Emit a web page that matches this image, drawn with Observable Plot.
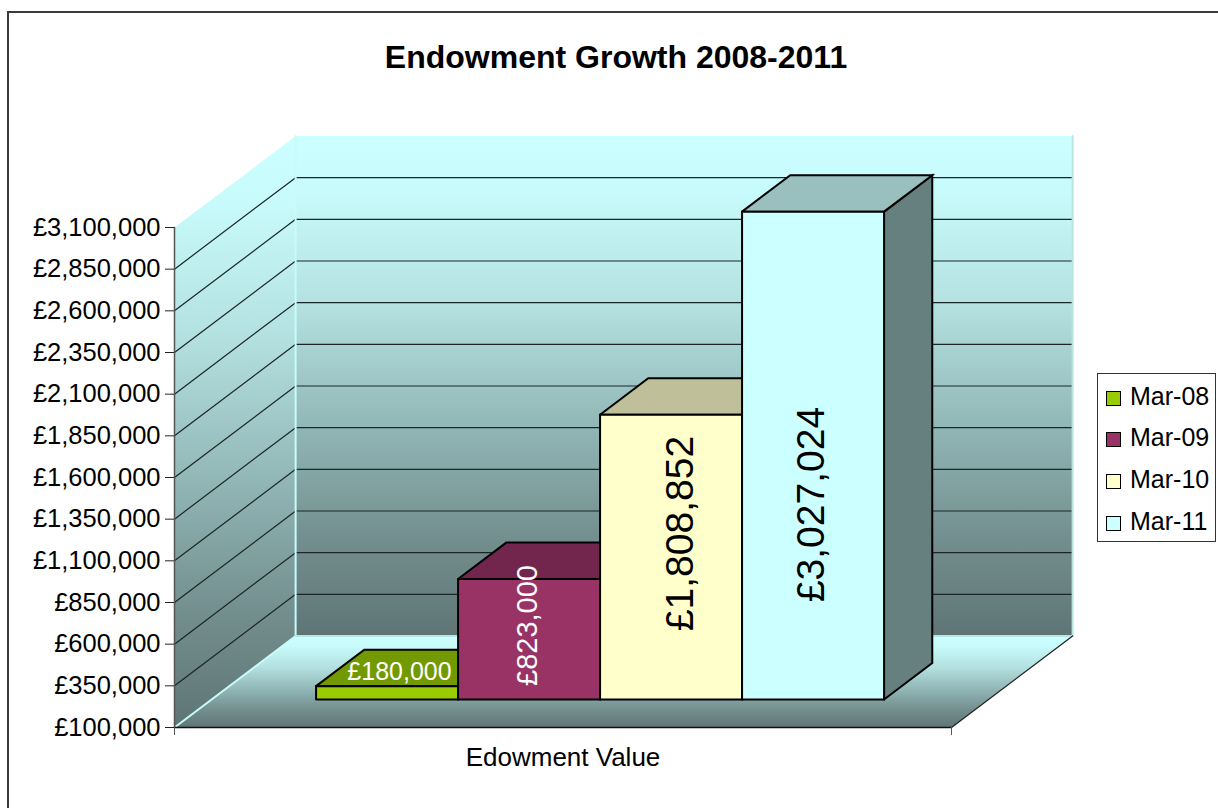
<!DOCTYPE html>
<html>
<head>
<meta charset="utf-8">
<script src="https://cdn.jsdelivr.net/npm/d3@7"></script>
<script src="https://cdn.jsdelivr.net/npm/@observablehq/plot@0.6"></script>
<style>
  html, body { margin: 0; padding: 0; background: #fff; overflow: hidden; width: 1218px; height: 808px; font-family: "Liberation Sans", Arial, sans-serif; }
  #frame { position: absolute; left: 7px; top: 11px; width: 1400px; height: 1000px; border: 2px solid #3a3a3a; }
  #title { position: absolute; left: 0; width: 1232px; top: 38px; text-align: center; font-size: 32px; font-weight: bold; color: #000; line-height: 38px; }
  #chart { position: absolute; left: 0; top: 0; }
  #legend { position: absolute; left: 1097px; top: 373px; width: 117px; height: 167px; border: 1px solid #333; background: #fff; }
  .item { position: absolute; left: 32px; font-size: 25px; line-height: 28px; white-space: nowrap; color: #000; }
  .swatch { position: absolute; left: -24px; top: 9px; width: 13px; height: 13px; border: 1.5px solid #000; }
</style>
</head>
<body>
<div id="frame"></div>
<div id="chart"></div>
<div id="title">Endowment Growth 2008-2011</div>
<div id="legend"></div>
<script>
const chartTitle = "Endowment Growth 2008-2011";
const categoryLabel = "Edowment Value";
const periods = ["Mar-08", "Mar-09", "Mar-10", "Mar-11"];
const values = [180000, 823000, 1808852, 3027024];
const faceColors = ["#99cc00", "#993366", "#ffffcc", "#ccffff"];
const topColors = ["#739900", "#73264d", "#bfbf99", "#99bfbf"];
const sideColors = ["#4d6600", "#4d1933", "#808066", "#668080"];
const labelColors = ["#fff", "#fff", "#000", "#000"];
const yTicks = [100000, 350000, 600000, 850000, 1100000, 1350000, 1600000, 1850000, 2100000, 2350000, 2600000, 2850000, 3100000];

const money = v => "£" + d3.format(",")(v);
const yBase = yTicks[0], yTop = yTicks[yTicks.length - 1];
const xMin = -0.736, xMax = 4.736;
// oblique projection: depth d (0 = front plane, 1 = back wall)
const depthX = 0.853, depthY = 549000;
const P = (x, v, d = 0) => ({x: x + d * depthX, y: v + d * depthY});
const barD0 = 0.306, barD1 = 0.704;

const poly = (pts, o) => Plot.line([...pts, pts[0]], {x: "x", y: "y", strokeLinejoin: "miter", strokeMiterlimit: 4, ...o});
const seg = (a, b, o) => Plot.line([a, b], {x: "x", y: "y", ...o});

const gradient = () => {
  const defs = d3.create("svg:defs");
  const g = defs.append("linearGradient").attr("id", "wallGrad").attr("x1", 0).attr("x2", 0).attr("y1", 0).attr("y2", 1);
  [[0, "#ccffff"], [0.12, "#c7fafa"], [0.35, "#b3dfdf"], [0.6, "#8fb3b3"], [0.8, "#748f8f"], [1, "#5f7575"]]
    .forEach(([o, c]) => g.append("stop").attr("offset", o).attr("stop-color", c));
  return defs.node();
};

const gridTicks = yTicks.slice(1, -1);
const marks = [
  gradient,
  // walls and floor
  poly([P(xMin, yBase, 0), P(xMin, yBase, 1), P(xMin, yTop, 1), P(xMin, yTop, 0)], {fill: "url(#wallGrad)", stroke: "none"}),
  poly([P(xMin, yBase, 1), P(xMax, yBase, 1), P(xMax, yTop, 1), P(xMin, yTop, 1)], {fill: "url(#wallGrad)", stroke: "none"}),
  poly([P(xMin, yBase, 0), P(xMax, yBase, 0), P(xMax, yBase, 1), P(xMin, yBase, 1)], {fill: "url(#wallGrad)", stroke: "none"}),
  // gridlines
  ...gridTicks.map(t => Plot.line([P(xMin, t, 0), P(xMin, t, 1), P(xMax, t, 1)], {x: "x", y: "y", stroke: "#1c2626", strokeWidth: 1.2})),
  // highlights
  Plot.line([P(xMin, yTop, 1), P(xMin, yBase, 1), P(xMin, yBase, 0)], {x: "x", y: "y", stroke: "#c8fbfb", strokeWidth: 2}),
  Plot.line([P(xMin, yBase, 1), P(xMax, yBase, 1), P(xMax, yTop, 1)], {x: "x", y: "y", stroke: "#b5e6e6", strokeWidth: 2}),
  seg(P(xMin, yBase, 0), P(xMin, yTop, 0), {stroke: "#555", strokeWidth: 1.5}),
  seg(P(xMin, yBase, 0), P(xMax, yBase, 0), {stroke: "#111", strokeWidth: 1.5}),
  seg(P(xMax, yBase, 0), P(xMax, yBase, 1), {stroke: "#222", strokeWidth: 1.3}),
  // bars
  ...values.flatMap((v, i) => {
    const o = {stroke: "#000", strokeWidth: 2};
    return [
      poly([P(i + 1, yBase, barD0), P(i + 1, yBase, barD1), P(i + 1, v, barD1), P(i + 1, v, barD0)], {fill: sideColors[i], ...o}),
      poly([P(i, v, barD0), P(i + 1, v, barD0), P(i + 1, v, barD1), P(i, v, barD1)], {fill: topColors[i], ...o}),
      poly([P(i, yBase, barD0), P(i + 1, yBase, barD0), P(i + 1, v, barD0), P(i, v, barD0)], {fill: faceColors[i], ...o})
    ];
  }),
  // data labels
  Plot.text([values[0]], {x: () => 0.5, y: () => yBase, text: money, fill: labelColors[0], fontSize: 25, dx: 49.5, dy: -56}),
  Plot.text([values[1]], {x: () => 1.5, y: () => yBase, text: money, fill: labelColors[1], fontSize: 29, rotate: -90, dx: 35.5, dy: -102}),
  Plot.text([values[2]], {x: () => 2.5, y: () => yBase, text: money, fill: labelColors[2], fontSize: 39, rotate: -90, dx: 46.5, dy: -194}),
  Plot.text([values[3]], {x: () => 3.5, y: () => yBase, text: money, fill: labelColors[3], fontSize: 39, rotate: -90, dx: 35.5, dy: -223}),
  // axes
  Plot.axisY({ticks: yTicks, tickFormat: money, tickSize: 9, tickPadding: 5, fontSize: 25.5, label: null, stroke: "#222", color: "#000"}),
  Plot.axisX({ticks: [xMin, xMax], tickFormat: () => "", tickSize: 8, label: null, stroke: "#555"}),
  Plot.text([categoryLabel], {x: () => (xMin + xMax) / 2, frameAnchor: "bottom", dy: 38, fontSize: 26, fill: "#000"})
];

const plot = Plot.plot({
  width: 1218, height: 808,
  marginLeft: 174, marginRight: 267, marginTop: 227, marginBottom: 81,
  x: {type: "linear", domain: [xMin, xMax], axis: null},
  y: {type: "linear", domain: [yBase, yTop], axis: null},
  style: {fontFamily: "'Liberation Sans', Arial, sans-serif", background: "transparent", overflow: "visible"},
  marks
});
document.getElementById("chart").appendChild(plot);

const legend = d3.select("#legend");
periods.forEach((p, i) => {
  const item = legend.append("div").attr("class", "item").style("top", (7.5 + i * 41.9) + "px").text(p);
  item.append("div").attr("class", "swatch").style("background", faceColors[i]);
});
document.title = chartTitle;
</script>
</body>
</html>
